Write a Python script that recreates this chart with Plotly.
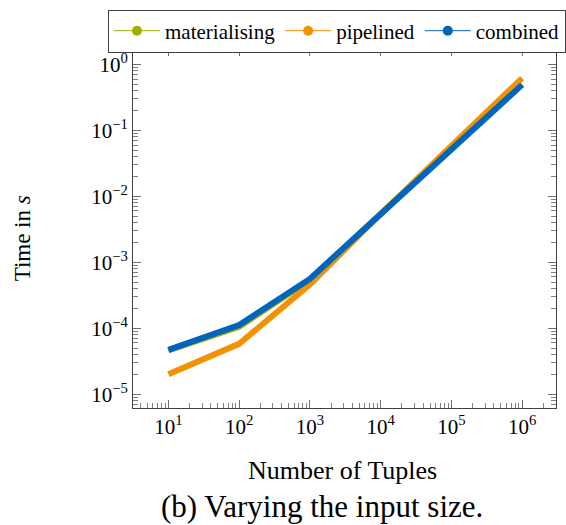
import plotly.graph_objects as go

tuples = [10, 100, 1000, 10000, 100000, 1000000]
materialising = [4.6e-5, 1.05e-4, 5.4e-4, 5.4e-3, 0.054, 0.50]
pipelined = [2.0e-5, 5.8e-5, 4.6e-4, 5.4e-3, 0.058, 0.62]
combined = [4.7e-5, 1.12e-4, 5.6e-4, 5.4e-3, 0.054, 0.49]

series_names = ["materialising", "pipelined", "combined"]
series_values = [materialising, pipelined, combined]
colors = ["#a2ad00", "#f39200", "#0065bd"]

x_tickvals = [10, 100, 1000, 10000, 100000, 1000000]
x_ticktext = ["10<sup>1</sup>", "10<sup>2</sup>", "10<sup>3</sup>", "10<sup>4</sup>", "10<sup>5</sup>", "10<sup>6</sup>"]
y_tickvals = [1, 0.1, 0.01, 0.001, 0.0001, 0.00001]
y_ticktext = ["10<sup>0</sup>", "10<sup>−1</sup>", "10<sup>−2</sup>", "10<sup>−3</sup>", "10<sup>−4</sup>", "10<sup>−5</sup>"]

x_minor = [m * 10.0 ** k for k in range(0, 7) for m in range(2, 10)]
y_minor = [m * 10.0 ** k for k in range(-6, 1) for m in range(2, 10)]

FONT = "Liberation Serif"

fig = go.Figure()
for name, vals, c in zip(series_names, series_values, colors):
    fig.add_trace(go.Scatter(x=tuples, y=vals, mode="lines", name=name,
                             line=dict(color=c, width=6), showlegend=False))
for name, c in zip(series_names, colors):
    fig.add_trace(go.Scatter(x=[None], y=[None], mode="lines+markers", name=name,
                             line=dict(color=c, width=1), marker=dict(color=c, size=10),
                             showlegend=True))

axis_common = dict(
    type="log", showline=True, linecolor="#404040", linewidth=1, mirror="ticks",
    ticks="inside", ticklen=8, tickcolor="#707070", showgrid=False, zeroline=False,
    tickfont=dict(family=FONT, size=21, color="black"),
)

fig.update_xaxes(**axis_common, range=[0.5, 6.48], tickmode="array",
                 tickvals=x_tickvals, ticktext=x_ticktext,
                 minor=dict(tickmode="array", tickvals=x_minor, ticks="inside",
                            ticklen=5, tickcolor="#808080", showgrid=False))
fig.update_yaxes(**axis_common, range=[-5.21, 0.25], tickmode="array",
                 tickvals=y_tickvals, ticktext=y_ticktext,
                 minor=dict(tickmode="array", tickvals=y_minor, ticks="inside",
                            ticklen=5, tickcolor="#808080", showgrid=False))

fig.add_annotation(text="Number of Tuples", xref="paper", yref="paper",
                   x=(342 - 133) / 423, y=(408 - 471) / 365, yanchor="middle", showarrow=False,
                   font=dict(family=FONT, size=26, color="black"))
fig.add_annotation(text="(b) Varying the input size.", xref="paper", yref="paper",
                   x=(322 - 133) / 423, y=(408 - 508) / 365, yanchor="middle", showarrow=False,
                   font=dict(family=FONT, size=31, color="black"))
fig.add_annotation(text="Time in <i>s</i>", xref="paper", yref="paper",
                   x=(22 - 133) / 423, y=(408 - 236) / 365, xanchor="center", yanchor="middle",
                   textangle=-90, showarrow=False,
                   font=dict(family=FONT, size=23, color="black"))

fig.update_layout(
    width=566, height=525,
    margin=dict(l=133, r=10, t=43, b=117),
    paper_bgcolor="white", plot_bgcolor="white",
    font=dict(family=FONT, color="black"),
    legend=dict(orientation="h", x=(108 - 133) / 423, xanchor="left", y=(408 - 4) / 365, yanchor="top",
                bordercolor="#404040", borderwidth=1, bgcolor="white",
                font=dict(family=FONT, size=21, color="black"),
                itemwidth=46, tracegroupgap=0),
)

fig.write_html("out.html")
